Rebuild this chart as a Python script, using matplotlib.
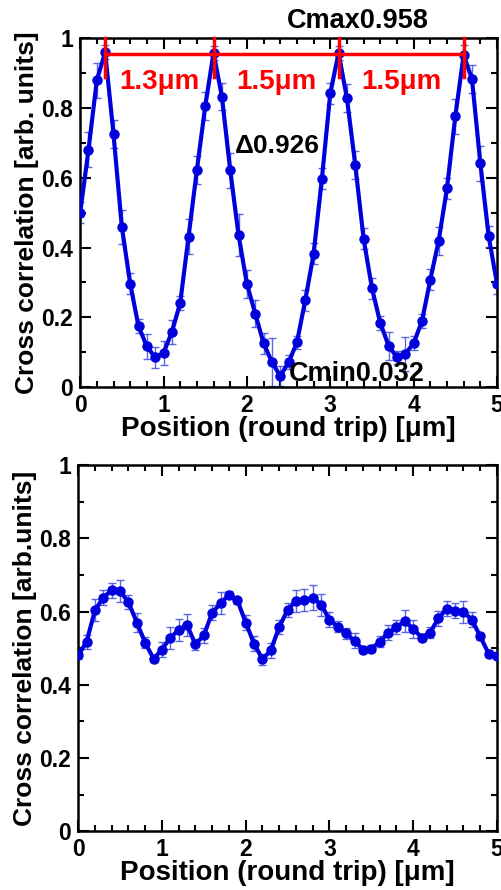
import numpy as np
import matplotlib
matplotlib.use("Agg")
import matplotlib.pyplot as plt
from matplotlib.ticker import MultipleLocator

plt.rcParams["font.family"] = ["Liberation Sans", "DejaVu Sans"]
plt.rcParams["font.weight"] = "bold"

# --- data ---
pos = np.round(np.arange(0, 5.01, 0.1), 1)

top_cc = [0.50, 0.68, 0.88, 0.96, 0.725, 0.459, 0.297, 0.174, 0.117, 0.085,
          0.098, 0.158, 0.241, 0.431, 0.622, 0.805, 0.958, 0.833, 0.622, 0.436,
          0.296, 0.211, 0.126, 0.072, 0.032, 0.071, 0.128, 0.249, 0.382, 0.598,
          0.842, 0.958, 0.828, 0.637, 0.425, 0.284, 0.184, 0.119, 0.085, 0.095,
          0.126, 0.189, 0.308, 0.419, 0.570, 0.776, 0.952, 0.883, 0.642, 0.433,
          0.297]
top_err = [0.03, 0.05, 0.05, 0.02, 0.04, 0.05, 0.03, 0.02, 0.035, 0.03,
           0.035, 0.035, 0.02, 0.05, 0.04, 0.04, 0.02, 0.04, 0.05, 0.06,
           0.04, 0.04, 0.03, 0.07, 0.03, 0.02, 0.02, 0.03, 0.03, 0.03,
           0.03, 0.02, 0.04, 0.04, 0.03, 0.03, 0.02, 0.04, 0.02, 0.05,
           0.02, 0.02, 0.03, 0.04, 0.03, 0.05, 0.03, 0.04, 0.05, 0.03,
           0.03]

bot_cc = [0.480, 0.517, 0.603, 0.638, 0.658, 0.655, 0.626, 0.570, 0.515, 0.471,
          0.496, 0.529, 0.549, 0.564, 0.510, 0.535, 0.597, 0.622, 0.646, 0.631,
          0.570, 0.512, 0.470, 0.494, 0.558, 0.604, 0.629, 0.631, 0.638, 0.619,
          0.578, 0.558, 0.540, 0.520, 0.496, 0.499, 0.517, 0.542, 0.558, 0.573,
          0.553, 0.529, 0.542, 0.581, 0.608, 0.602, 0.599, 0.578, 0.532, 0.485,
          0.479]
bot_err = [0.01, 0.02, 0.03, 0.02, 0.02, 0.03, 0.02, 0.025, 0.015, 0.01,
           0.02, 0.03, 0.03, 0.03, 0.015, 0.02, 0.02, 0.03, 0.01, 0.01,
           0.02, 0.02, 0.015, 0.02, 0.02, 0.02, 0.03, 0.03, 0.035, 0.03,
           0.02, 0.015, 0.015, 0.02, 0.01, 0.01, 0.015, 0.02, 0.02, 0.03,
           0.025, 0.01, 0.015, 0.02, 0.02, 0.02, 0.03, 0.02, 0.01, 0.01,
           0.01]

peak_pos = [0.3, 1.6, 3.1, 4.6]
period_labels = ["1.3\u03bcm", "1.5\u03bcm", "1.5\u03bcm"]
period_text_x = [0.95, 2.35, 3.85]
cmax, cmin, delta = 0.958, 0.032, 0.926

BLUE = "#0000dd"


def fmt_tick(v, _):
    if abs(v) < 1e-9:
        return "0"
    if abs(v - 1) < 1e-9:
        return "1"
    return f"{v:.1f}"


def style_axes(ax, ylabel):
    ax.set_xlim(0, 5)
    ax.set_ylim(0, 1)
    ax.xaxis.set_major_locator(MultipleLocator(1))
    ax.xaxis.set_minor_locator(MultipleLocator(0.2))
    ax.yaxis.set_major_locator(MultipleLocator(0.2))
    ax.yaxis.set_minor_locator(MultipleLocator(0.1))
    ax.yaxis.set_major_formatter(plt.FuncFormatter(fmt_tick))
    ax.tick_params(which="both", direction="in", top=True, right=True, width=1.5)
    ax.tick_params(which="major", length=8, labelsize=16.5, pad=5)
    ax.tick_params(which="minor", length=4.5)
    for s in ax.spines.values():
        s.set_linewidth(1.8)
    ax.set_xlabel("Position (round trip) [\u03bcm]", fontsize=20, fontweight="bold", labelpad=-1)
    ax.set_ylabel(ylabel, fontsize=19, fontweight="bold", labelpad=2)


def draw_series(ax, y, err):
    ax.errorbar(pos, y, yerr=err, fmt="none", ecolor="#3344e0", elinewidth=1.0,
                capsize=3, capthick=1.0, alpha=0.8, zorder=2)
    ax.plot(pos, y, "-o", color=BLUE, lw=3.0, ms=6.5, zorder=3)


fig = plt.figure(figsize=(5.01, 8.90), dpi=100)
ax1 = fig.add_axes([0.160, 0.565, 0.832, 0.392])
ax2 = fig.add_axes([0.156, 0.066, 0.836, 0.4115])

# top panel
draw_series(ax1, top_cc, top_err)
style_axes(ax1, "Cross correlation [arb. units]")
ax1.plot([peak_pos[0], peak_pos[-1]], [0.955, 0.955], color="red", lw=2.5, zorder=4)
for p in peak_pos:
    ax1.plot([p, p], [0.89, 1.0], color="red", lw=2.5, zorder=4, clip_on=False)
for tx, lab in zip(period_text_x, period_labels):
    ax1.text(tx, 0.875, lab, color="red", fontsize=20, fontweight="bold",
             ha="center", va="center", zorder=5)
ax1.text(2.48, 1.05, f"Cmax{cmax}", fontsize=19.5, fontweight="bold",
         ha="left", va="center", clip_on=False)
ax1.text(1.86, 0.69, f"\u0394{delta}", fontsize=19, fontweight="bold",
         ha="left", va="center")
ax1.text(2.5, 0.037, f"Cmin{cmin}", fontsize=19.5, fontweight="bold",
         ha="left", va="center", zorder=5)

# bottom panel
draw_series(ax2, bot_cc, bot_err)
style_axes(ax2, "Cross correlation [arb.units]")

fig.savefig("out.png", dpi=100)
